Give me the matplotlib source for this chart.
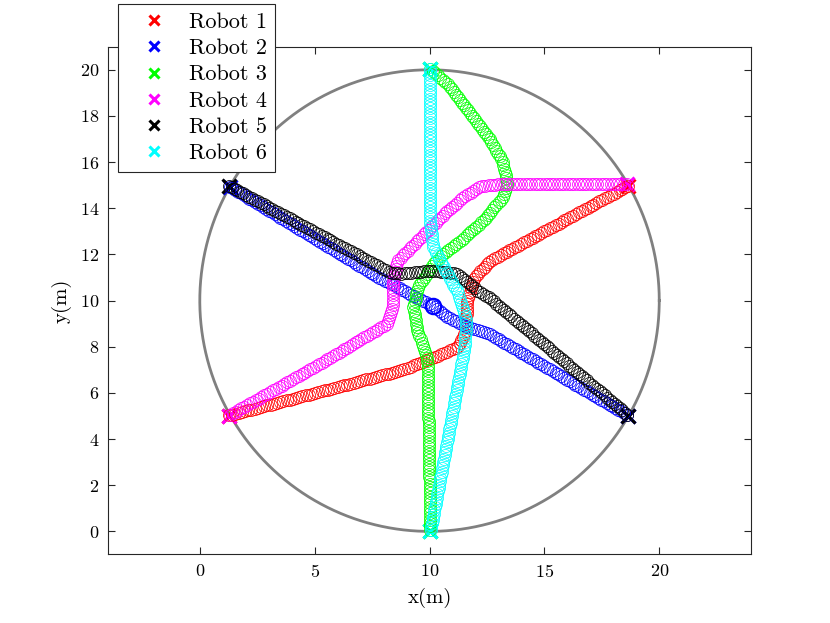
import numpy as np
import matplotlib
matplotlib.use('Agg')
import matplotlib.pyplot as plt
import matplotlib.patheffects as pe
from matplotlib.path import Path
from matplotlib.transforms import Affine2D, IdentityTransform

plt.rcParams['font.family'] = 'serif'
plt.rcParams['font.serif'] = ['cmr10']
plt.rcParams['mathtext.fontset'] = 'cm'
plt.rcParams['axes.formatter.use_mathtext'] = True

# ── Trayectorias (puntos de paso) ─────────────────────────────────────────────
r1_x = [18.65, 12.65, 11.96, 11.65, 11.57, 11.22, 10.48, 8.74, 1.26]
r1_y = [14.98, 11.73, 11.00, 10.00, 8.70, 7.97, 7.66, 6.97, 5.02]

r2_x = [1.30, 7.87, 8.74, 9.60, 10.17, 10.78, 11.65, 12.65, 18.65]
r2_y = [14.94, 10.95, 10.52, 10.04, 9.78, 9.30, 8.87, 8.53, 5.02]
r2_pause = (10.17, 9.78)   # el robot 2 se detiene aquí

r3_x = [10.04, 10.78, 12.65, 13.17, 13.39, 13.17, 12.35, 11.35, 10.60, 10.17, 9.48, 9.30, 9.48, 9.91, 10.04]
r3_y = [20.04, 19.40, 16.93, 16.06, 15.06, 14.46, 13.46, 12.60, 12.03, 11.60, 10.56, 9.70, 8.70, 7.40, 0.00]

r4_x = [18.60, 13.09, 12.22, 11.57, 11.00, 10.48, 8.60, 8.40, 8.39, 8.17, 7.13, 5.70, 1.26]
r4_y = [15.06, 15.06, 14.94, 14.55, 14.07, 13.60, 11.73, 10.74, 9.70, 9.00, 8.40, 7.53, 5.02]

r5_x = [1.26, 8.30, 8.74, 10.17, 11.22, 12.09, 12.65, 18.65]
r5_y = [14.98, 11.21, 11.17, 11.30, 11.17, 10.43, 10.09, 5.02]

r6_x = [10.04, 10.04, 10.17, 10.70, 11.26, 11.60, 11.52, 11.20, 10.04]
r6_y = [20.04, 13.25, 12.30, 11.30, 10.30, 9.13, 7.97, 6.23, 0.00]

labels = ['Robot 1', 'Robot 2', 'Robot 3', 'Robot 4', 'Robot 5', 'Robot 6']
colors = ['#ff0000', '#0000ff', '#00ff00', '#ff00ff', '#000000', '#00ffff']
paths = [(r1_x, r1_y), (r2_x, r2_y), (r3_x, r3_y),
         (r4_x, r4_y), (r5_x, r5_y), (r6_x, r6_y)]

# círculo del escenario
center = (10, 10)
radius = 10


class CircleChain(pe.AbstractPathEffect):
    """Dibuja la trayectoria como una cadena de círculos (huella del robot)."""

    def __init__(self, step=3.3, rad=6.0, lw=0.55):
        super().__init__()
        self.step, self.rad, self.lw = step, rad, lw

    def draw_path(self, renderer, gc, tpath, affine, rgbFace=None):
        xy = affine.transform(tpath.vertices)
        seg = np.hypot(*np.diff(xy, axis=0).T)
        s = np.concatenate([[0], np.cumsum(seg)])
        d = np.arange(0, s[-1] + 1e-6, self.step)
        pts = np.column_stack([np.interp(d, s, xy[:, 0]), np.interp(d, s, xy[:, 1])])
        gc0 = renderer.new_gc()
        gc0.copy_properties(gc)
        gc0.set_linewidth(self.lw)
        renderer.draw_markers(gc0, Path.unit_circle(), Affine2D().scale(self.rad),
                              Path(pts), IdentityTransform(), None)
        gc0.restore()


fig = plt.figure(figsize=(8.3, 6.23), dpi=100)
ax = fig.add_axes([0.13, 0.11, 0.775, 0.815])

th = np.linspace(0, 2 * np.pi, 400)
ax.plot(center[0] + radius * np.cos(th), center[1] + radius * np.sin(th),
        color='#808080', lw=2)

for (px, py), c, lab in zip(paths, colors, labels):
    ax.plot([px[0], px[-1]], [py[0], py[-1]], ls='none', marker='x', ms=10,
            mew=2.2, color=c, label=lab, zorder=2)

for (px, py), c in zip(paths, colors):
    ax.plot(px, py, color=c, zorder=3, path_effects=[CircleChain()])

ax.plot(*r2_pause, marker='o', ms=11, mfc='none', mec=colors[1], mew=1.6, zorder=3)

ax.set_xlim(-4, 24)
ax.set_ylim(-1, 21)
ax.set_xticks([0, 5, 10, 15, 20])
ax.set_yticks(np.arange(0, 21, 2))
ax.tick_params(direction='in', top=True, right=True, labelsize=13, length=5,
               color='#262626', pad=6)
for sp in ax.spines.values():
    sp.set_color('#262626')
    sp.set_linewidth(0.8)
ax.set_xlabel('x(m)', fontsize=15, labelpad=6)
ax.set_ylabel('y(m)', fontsize=15, labelpad=6)

leg = ax.legend(loc='upper left', bbox_to_anchor=(118 / 830, 1 - 4 / 623),
                bbox_transform=fig.transFigure, borderaxespad=0, fontsize=16,
                fancybox=False, framealpha=1, edgecolor='#262626',
                handlelength=2.5, handletextpad=0.3, borderpad=0.38,
                labelspacing=0.3, markerscale=0.75)
leg.get_frame().set_linewidth(0.8)
leg.set_zorder(10)

fig.savefig('out.png', dpi=100)
